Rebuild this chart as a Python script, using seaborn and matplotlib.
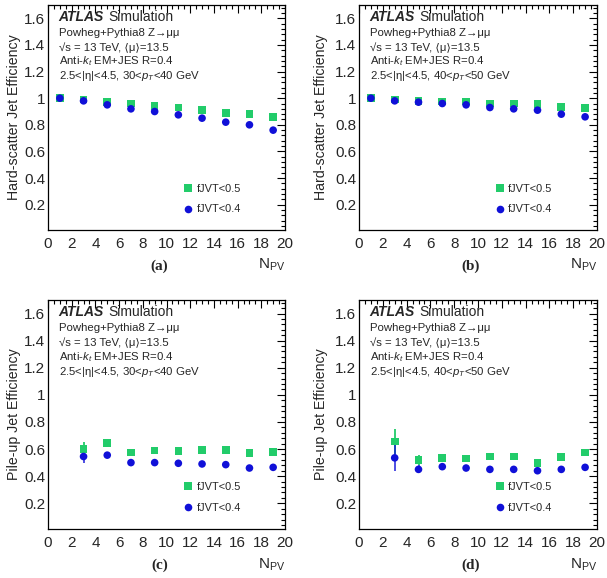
import numpy as np
import pandas as pd
import matplotlib
matplotlib.use("Agg")
import matplotlib.pyplot as plt
from matplotlib.ticker import MultipleLocator
import seaborn as sns

# N_PV bins
npv_hs = [1, 3, 5, 7, 9, 11, 13, 15, 17, 19]
npv_pu = [3, 5, 7, 9, 11, 13, 15, 17, 19]

# (a) hard-scatter, 30<pT<40
hs30_f05 = [1.0, 0.99, 0.97, 0.96, 0.94, 0.93, 0.91, 0.89, 0.88, 0.86]
hs30_f04 = [1.0, 0.98, 0.95, 0.92, 0.90, 0.875, 0.85, 0.82, 0.80, 0.76]
# (b) hard-scatter, 40<pT<50
hs40_f05 = [1.0, 0.99, 0.98, 0.975, 0.975, 0.96, 0.96, 0.955, 0.935, 0.925]
hs40_f04 = [1.0, 0.98, 0.97, 0.96, 0.95, 0.93, 0.92, 0.91, 0.88, 0.86]
# (c) pile-up, 30<pT<40
pu30_f05 = [0.60, 0.645, 0.575, 0.59, 0.585, 0.595, 0.595, 0.57, 0.58]
pu30_f04 = [0.545, 0.555, 0.50, 0.50, 0.495, 0.49, 0.485, 0.46, 0.465]
pu30_f05_err = [0.05, 0.015, 0.01, 0.01, 0.01, 0.01, 0.01, 0.01, 0.01]
pu30_f04_err = [0.045, 0.015, 0.01, 0.01, 0.01, 0.01, 0.01, 0.01, 0.01]
# (d) pile-up, 40<pT<50
pu40_f05 = [0.655, 0.52, 0.535, 0.53, 0.545, 0.545, 0.495, 0.54, 0.575]
pu40_f04 = [0.535, 0.45, 0.47, 0.46, 0.45, 0.45, 0.44, 0.45, 0.465]
pu40_f05_err = [0.095, 0.035, 0.015, 0.015, 0.015, 0.015, 0.015, 0.015, 0.02]
pu40_f04_err = [0.10, 0.03, 0.015, 0.015, 0.015, 0.015, 0.015, 0.015, 0.02]

green = "#22cc6a"
blue = "#1010d8"

sns.set_style("white")
plt.rcParams["font.family"] = ["Liberation Sans", "DejaVu Sans"]
plt.rcParams["mathtext.fontset"] = "custom"
plt.rcParams["mathtext.rm"] = "Liberation Sans"
plt.rcParams["mathtext.it"] = "Liberation Sans:italic"

fig = plt.figure(figsize=(6.07, 5.78), dpi=100)

W, H = 607, 578
boxes = [(48, 5, 285, 230), (359, 5, 597, 230), (48, 300, 285, 529), (359, 300, 597, 529)]
ylab_x = [-0.115, -0.13, -0.115, -0.13]
panels = [
    ("Hard-scatter Jet Efficiency", npv_hs, hs30_f05, hs30_f04, None, None, "30", "40", "(a)"),
    ("Hard-scatter Jet Efficiency", npv_hs, hs40_f05, hs40_f04, None, None, "40", "50", "(b)"),
    ("Pile-up Jet Efficiency", npv_pu, pu30_f05, pu30_f04, pu30_f05_err, pu30_f04_err, "30", "40", "(c)"),
    ("Pile-up Jet Efficiency", npv_pu, pu40_f05, pu40_f04, pu40_f05_err, pu40_f04_err, "40", "50", "(d)"),
]

for (x0, y0, x1, y1), lx, (ylab, xs, f05, f04, e05, e04, lo, hi, tag) in zip(boxes, ylab_x, panels):
    ax = fig.add_axes([x0 / W, 1 - y1 / H, (x1 - x0) / W, (y1 - y0) / H])
    df = pd.DataFrame({
        "NPV": list(xs) * 2,
        "eff": list(f05) + list(f04),
        "cut": ["fJVT<0.5"] * len(xs) + ["fJVT<0.4"] * len(xs),
    })
    if e05 is not None:
        ax.errorbar(xs, f05, yerr=e05, fmt="none", ecolor=green, elinewidth=1.3, zorder=2)
        ax.errorbar(xs, f04, yerr=e04, fmt="none", ecolor=blue, elinewidth=1.3, alpha=0.8, zorder=2)
    sns.scatterplot(data=df, x="NPV", y="eff", hue="cut", style="cut",
                    palette={"fJVT<0.5": green, "fJVT<0.4": blue},
                    markers={"fJVT<0.5": "s", "fJVT<0.4": "o"},
                    s=30, linewidth=0, ax=ax, zorder=3)
    ax.set_xlim(0, 20)
    ax.set_ylim(0.01, 1.7)
    ax.xaxis.set_major_locator(MultipleLocator(2))
    ax.xaxis.set_minor_locator(MultipleLocator(0.5))
    ax.yaxis.set_minor_locator(MultipleLocator(0.04))
    ax.set_yticks(np.arange(0.2, 1.61, 0.2))
    ax.set_yticklabels(["0.2", "0.4", "0.6", "0.8", "1", "1.2", "1.4", "1.6"])
    ax.tick_params(which="both", direction="in", top=True, right=True, labelsize=11, width=0.8, color="black")
    ax.tick_params(which="major", length=5.5)
    ax.tick_params(which="minor", length=2.8)
    ax.tick_params(axis="x", pad=5)
    ax.tick_params(axis="y", pad=2)
    for sp in ax.spines.values():
        sp.set_color("black")
        sp.set_linewidth(0.9)
    ax.set_xlabel("")
    ax.set_ylabel(ylab, fontsize=10.2)
    ax.yaxis.set_label_coords(lx, 0.5)

    ax.legend(loc="lower left", bbox_to_anchor=(0.572, 0.069), frameon=False, borderpad=0,
              borderaxespad=0, fontsize=7.9, labelspacing=1.0, handlelength=0.8,
              handletextpad=0.4)

    atl = ax.text(0.045, 0.947, "ATLAS", transform=ax.transAxes, fontsize=10,
                  fontweight="bold", fontstyle="italic", va="center")
    ax.annotate("Simulation", xy=(1, 0.5), xycoords=atl, xytext=(3, 0),
                textcoords="offset points", fontsize=10, va="center")
    lines = [
        "Powheg+Pythia8 Z\u2192\u03bc\u03bc",
        "\u221as = 13 TeV, \u27e8\u03bc\u27e9=13.5",
        "Anti-$k_{t}$ EM+JES R=0.4",
        "2.5<|\u03b7|<4.5, " + lo + "<$p_{T}$<" + hi + " GeV",
    ]
    for i, t in enumerate(lines):
        ax.text(0.045, 0.876 - i * 0.0635, t, transform=ax.transAxes, fontsize=8.2, va="center")

    ax.text(1.0, -0.12, "N$_{\\mathrm{PV}}$", transform=ax.transAxes, fontsize=11, ha="right", va="top")
    ax.text(0.47, -0.13, tag, transform=ax.transAxes, fontsize=11, ha="center", va="top",
            fontweight="bold", family="Liberation Serif")

fig.savefig("out.png", dpi=100)
